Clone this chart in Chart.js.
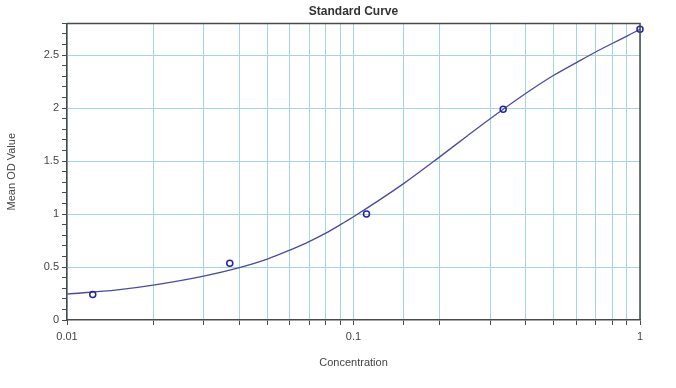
<!DOCTYPE html>
<html>
<head>
<meta charset="utf-8">
<script src="https://cdn.jsdelivr.net/npm/chart.js@4/dist/chart.umd.min.js"></script>
<style>
  html, body { margin: 0; padding: 0; background: #fff; }
  #wrap { width: 676px; height: 388px; }
</style>
</head>
<body>
<div id="wrap"><canvas id="chart" width="676" height="388"></canvas></div>
<script>
// Puntos del estándar (concentración vs DO media)
const concentrations = [0.0123, 0.037, 0.111, 0.333, 1];
const meanOD = [0.24, 0.535, 1.0, 1.99, 2.745];

// Curva ajustada
const curveX = [0.01, 0.015, 0.02, 0.03, 0.04, 0.05, 0.06, 0.07, 0.08, 0.09, 0.1, 0.15, 0.2, 0.25, 0.3, 0.4, 0.5, 0.6, 0.7, 0.8, 0.9, 1.0, 1.07];
const curveY = [0.245, 0.285, 0.33, 0.415, 0.495, 0.575, 0.66, 0.74, 0.82, 0.90, 0.975, 1.29, 1.54, 1.74, 1.90, 2.14, 2.31, 2.43, 2.53, 2.61, 2.68, 2.745, 2.79];

const xLabels = [0.01, 0.1, 1];

const gridColor = '#a3d6de';
const axisColor = '#4a4a4a';
const textColor = '#444';
const fontFamily = 'Arial, "Liberation Sans", sans-serif';

// Marco superior y derecho del área del gráfico
const framePlugin = {
    id: 'frame',
    afterDraw(chart) {
        const { ctx, chartArea } = chart;
        ctx.save();
        ctx.strokeStyle = axisColor;
        ctx.lineWidth = 1.5;
        ctx.beginPath();
        ctx.moveTo(chartArea.left, chartArea.top);
        ctx.lineTo(chartArea.right, chartArea.top);
        ctx.lineTo(chartArea.right, chartArea.bottom);
        ctx.stroke();
        ctx.restore();
    }
};

const curveData = curveX.map((x, i) => ({ x: x, y: curveY[i] }));
const pointData = concentrations.map((x, i) => ({ x: x, y: meanOD[i] }));

new Chart(document.getElementById('chart'), {
    type: 'scatter',
    data: {
        datasets: [
            {
                label: 'Mean OD',
                data: pointData,
                showLine: false,
                pointRadius: 3,
                pointStyle: 'circle',
                borderColor: '#2323a8',
                backgroundColor: 'rgba(255,255,255,0)',
                borderWidth: 1.5,
                clip: false,
                order: 0
            },
            {
                label: 'Fit',
                data: curveData,
                showLine: true,
                pointRadius: 0,
                borderColor: '#4b4b9e',
                borderWidth: 1.3,
                cubicInterpolationMode: 'monotone',
                clip: false,
                order: 1
            }
        ]
    },
    options: {
        responsive: false,
        animation: false,
        layout: { padding: { top: 0, right: 36, bottom: 0, left: 0 } },
        plugins: {
            legend: { display: false },
            tooltip: { enabled: false },
            title: {
                display: true,
                fullSize: false,
                text: 'Standard Curve',
                color: '#333',
                font: { family: fontFamily, size: 12, weight: 'bold' },
                padding: { top: 4, bottom: 5 }
            }
        },
        scales: {
            x: {
                type: 'logarithmic',
                min: 0.01,
                max: 1,
                border: { color: axisColor, width: 1.5 },
                grid: {
                    color: gridColor,
                    lineWidth: 1,
                    tickColor: axisColor,
                    tickLength: 5
                },
                ticks: {
                    autoSkip: false,
                    maxRotation: 0,
                    padding: 5,
                    color: textColor,
                    font: { family: fontFamily, size: 11 },
                    callback: function (value) {
                        const hit = xLabels.find(v => Math.abs(v - value) / v < 1e-6);
                        return hit !== undefined ? String(hit) : '';
                    }
                },
                title: {
                    display: true,
                    text: 'Concentration',
                    color: textColor,
                    font: { family: fontFamily, size: 11 },
                    padding: { top: 18, bottom: 18 }
                },
                afterFit: function (scale) { scale.height = 68; }
            },
            y: {
                min: 0,
                max: 2.8,
                border: { color: axisColor, width: 1.5 },
                grid: {
                    color: function (c) {
                        const v = c.tick ? c.tick.value : 0;
                        return Math.abs(v * 2 - Math.round(v * 2)) < 1e-6 && v > 0 ? gridColor : 'rgba(0,0,0,0)';
                    },
                    tickColor: axisColor,
                    tickLength: 5
                },
                ticks: {
                    stepSize: 0.1,
                    autoSkip: false,
                    padding: 3,
                    color: textColor,
                    font: { family: fontFamily, size: 11 },
                    callback: function (value) {
                        if (Math.abs(value * 2 - Math.round(value * 2)) < 1e-6) {
                            return String(Math.round(value * 2) / 2);
                        }
                        return '';
                    }
                },
                title: {
                    display: true,
                    text: 'Mean OD Value',
                    color: textColor,
                    font: { family: fontFamily, size: 11 },
                    padding: { top: 5, bottom: 4 }
                },
                afterFit: function (scale) { scale.width = 67; }
            }
        }
    },
    plugins: [framePlugin]
});
</script>
</body>
</html>
